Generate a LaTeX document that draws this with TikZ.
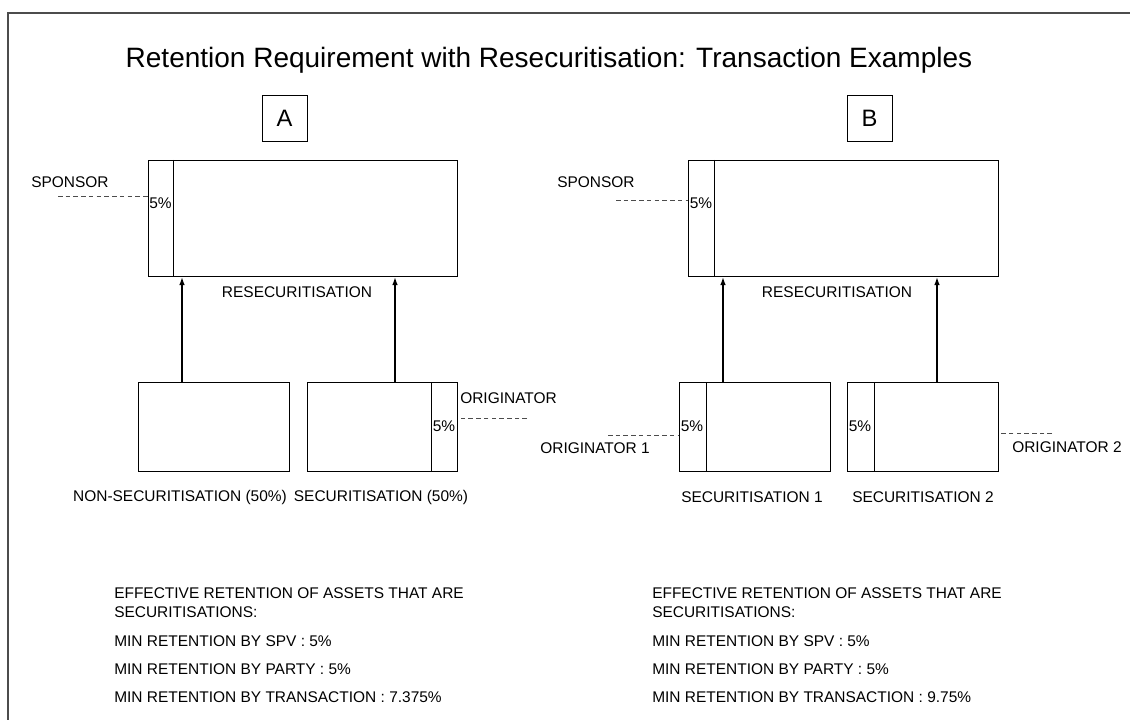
\documentclass[tikz,border=0pt]{standalone}
\usepackage{fontspec}
\setmainfont{Liberation Sans}
\usetikzlibrary{arrows.meta}

\begin{document}
\begin{tikzpicture}[x=0.75pt,y=-0.75pt,
                    bx/.style 2 args={draw, line width=0.8pt, inner sep=0pt, anchor=north west,
                                      minimum width=#1*0.75pt, minimum height=#2*0.75pt},
                    strip/.style={line width=0.6pt},
                    lbl/.style={inner sep=0pt, font=\fontsize{11.6}{13}\selectfont},
                    tag/.style={draw, line width=0.6pt, inner sep=0pt, minimum width=33.75pt,
                                minimum height=34.5pt, font=\fontsize{17.8}{20}\selectfont},
                    lead/.style={dash pattern=on 3.4pt off 2.4pt, draw=black!70, line width=0.7pt},
                    arr/.style={-{Latex[length=6pt,width=4.2pt]}, line width=1pt}]
\useasboundingbox (0,0) rectangle (1130,720);
\draw[black!70, line width=0.8pt] (8,720) |- (1130,13);

\node[inner sep=0pt, font=\fontsize{21}{24}\selectfont] (title) at (549,60)
    {Retention Requirement with Resecuritisation: Transaction Examples};
\node[tag] (tagA) at (284.5,118) {A};
\node[tag] (tagB) at (869.5,118) {B};

% example A
\node[bx={309}{116}] (resA) at (148,160) {};
\draw[strip] (resA.north west) ++(25,0) coordinate (t) -- (t |- resA.south);
\node[lbl] (pctA) at (160.5,203) {5\%};
\node[lbl, anchor=west] (spA) at (31,182) {SPONSOR};
\draw[lead] (58,196) coordinate (d) -- (d -| resA.west);
\node[lbl] at (297,292) {RESECURITISATION};

\node[bx={151}{89}] (nonsec) at (138,382) {};
\node[bx={150}{89}] (secA) at (307,382) {};
\draw[strip] (secA.north west) ++(124,0) coordinate (t) -- (t |- secA.south);
\node[lbl] (pctA2) at (444,426) {5\%};
\node[lbl, anchor=west] (orA) at (460,398) {ORIGINATOR};
\draw[lead] (527,418) coordinate (d) -- (d -| secA.east);
\node[lbl] at (180,497) {NON-SECURITISATION (50\%)};
\node[lbl] at (381,497) {SECURITISATION (50\%)};

\draw[arr] (nonsec.north west) ++(44,0) coordinate (t) -- (t |- resA.south);
\draw[arr] (secA.north west) ++(88,0) coordinate (t) -- (t |- resA.south);

% example B
\node[bx={310}{116}] (resB) at (688,160) {};
\draw[strip] (resB.north west) ++(26,0) coordinate (t) -- (t |- resB.south);
\node[lbl] (pctB) at (701,203) {5\%};
\node[lbl, anchor=west] (spB) at (557,182) {SPONSOR};
\draw[lead] (616,200) coordinate (d) -- (d -| resB.west);
\node[lbl] at (837,292) {RESECURITISATION};

\node[bx={151}{89}] (secB1) at (679,382) {};
\draw[strip] (secB1.north west) ++(27,0) coordinate (t) -- (t |- secB1.south);
\node[lbl] (pctB1) at (692,426) {5\%};
\node[bx={151}{89}] (secB2) at (847,382) {};
\draw[strip] (secB2.north west) ++(27,0) coordinate (t) -- (t |- secB2.south);
\node[lbl] (pctB2) at (860,426) {5\%};
\node[lbl, anchor=east] (orB1) at (650,448) {ORIGINATOR 1};
\draw[lead] (608,435) coordinate (d) -- (d -| secB1.west);
\node[lbl, anchor=west] (orB2) at (1012,447) {ORIGINATOR 2};
\draw[lead] (1052,433) coordinate (d) -- (d -| secB2.east);
\node[lbl] at (752,497) {SECURITISATION 1};
\node[lbl] at (923,497) {SECURITISATION 2};

\draw[arr] (secB1.north west) ++(44,0) coordinate (t) -- (t |- resB.south);
\draw[arr] (secB2.north west) ++(90,0) coordinate (t) -- (t |- resB.south);

% retention notes
\foreach \x/\v in {114/7.375, 652/9.75} {
  \node[lbl, anchor=west] at (\x,593) {EFFECTIVE RETENTION OF ASSETS THAT ARE};
  \node[lbl, anchor=west] at (\x,612) {SECURITISATIONS:};
  \node[lbl, anchor=west] at (\x,641) {MIN RETENTION BY SPV : 5\%};
  \node[lbl, anchor=west] at (\x,669) {MIN RETENTION BY PARTY : 5\%};
  \node[lbl, anchor=west] at (\x,697) {MIN RETENTION BY TRANSACTION : \v\%};
}
\end{tikzpicture}
\end{document}
